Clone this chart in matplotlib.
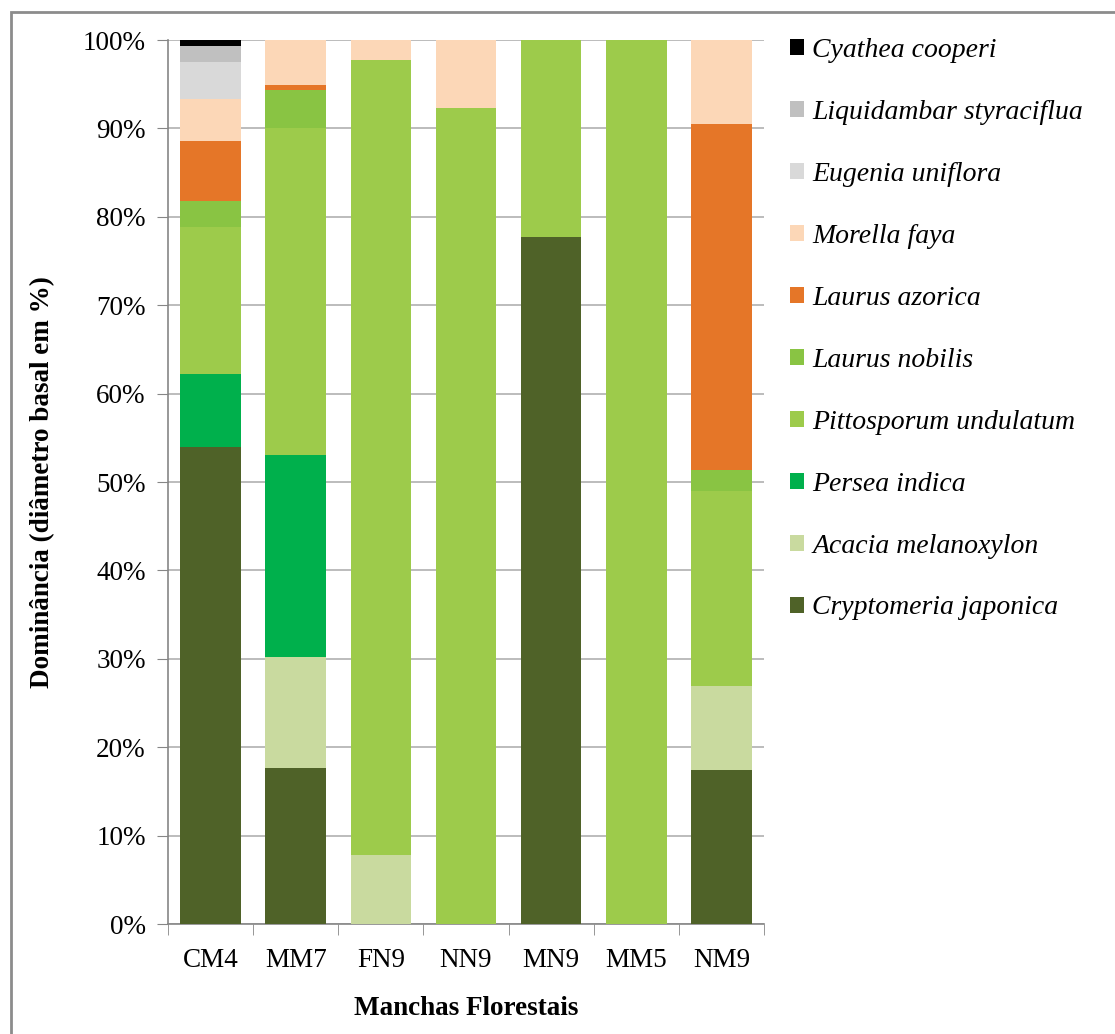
import numpy as np
import matplotlib
matplotlib.use("Agg")
import matplotlib.pyplot as plt
from matplotlib.patches import Patch, Rectangle
from matplotlib.ticker import MultipleLocator, FuncFormatter

plt.rcParams['font.family'] = ['Liberation Serif', 'DejaVu Serif']

manchas = ["CM4", "MM7", "FN9", "NN9", "MN9", "MM5", "NM9"]

# dominance (%) per species, bottom to top
cryptomeria = [54.0, 17.6, 0.0, 0.0, 77.7, 0.0, 17.4]
acacia = [0.0, 12.6, 7.8, 0.0, 0.0, 0.0, 9.5]
persea = [8.2, 22.8, 0.0, 0.0, 0.0, 0.0, 0.0]
pittosporum = [16.6, 37.1, 89.9, 92.3, 22.3, 100.0, 22.1]
laurus_nobilis = [3.0, 4.2, 0.0, 0.0, 0.0, 0.0, 2.4]
laurus_azorica = [6.8, 0.6, 0.0, 0.0, 0.0, 0.0, 39.1]
morella = [4.7, 5.1, 2.3, 7.7, 0.0, 0.0, 9.5]
eugenia = [4.2, 0.0, 0.0, 0.0, 0.0, 0.0, 0.0]
liquidambar = [1.85, 0.0, 0.0, 0.0, 0.0, 0.0, 0.0]
cyathea = [0.65, 0.0, 0.0, 0.0, 0.0, 0.0, 0.0]

series = [
    ("Cryptomeria japonica", cryptomeria, "#4F6228"),
    ("Acacia melanoxylon", acacia, "#C9DA9F"),
    ("Persea indica", persea, "#00B04C"),
    ("Pittosporum undulatum", pittosporum, "#9DCB4B"),
    ("Laurus nobilis", laurus_nobilis, "#89C443"),
    ("Laurus azorica", laurus_azorica, "#E57628"),
    ("Morella faya", morella, "#FCD7B7"),
    ("Eugenia uniflora", eugenia, "#D9D9D9"),
    ("Liquidambar styraciflua", liquidambar, "#C0C0C0"),
    ("Cyathea cooperi", cyathea, "#000000"),
]

W, H = 1115, 1034
fig = plt.figure(figsize=(W / 100, H / 100), dpi=100)
ax = fig.add_axes([168 / W, (H - 924) / H, 596 / W, 884 / H])

x = np.arange(len(manchas))
bottom = np.zeros(len(manchas))
handles = []
for name, vals, color in series:
    vals = np.array(vals)
    ax.bar(x, vals, width=0.71, bottom=bottom, color=color, zorder=3)
    bottom += vals
    handles.append(Patch(facecolor=color, label=name))

ax.set_xlim(-0.5, len(manchas) - 0.5)
ax.set_ylim(0, 100)
ax.yaxis.set_major_locator(MultipleLocator(10))
ax.yaxis.set_major_formatter(FuncFormatter(lambda v, p: f"{v:.0f}%"))
ax.grid(axis='y', color='#B0B0B0', linewidth=1.2, zorder=0)

ax.set_xticks(x)
ax.set_xticklabels(manchas)
ax.set_xticks(np.arange(-0.5, len(manchas)), minor=True)
ax.tick_params(axis='x', which='major', length=0, labelsize=19.5, pad=17)
ax.tick_params(axis='x', which='minor', length=8, color='#868686', direction='out')
ax.tick_params(axis='y', labelsize=19.5, length=8, color='#868686', pad=8)

for side in ['top', 'right']:
    ax.spines[side].set_visible(False)
ax.spines['left'].set_color('#868686')
ax.spines['bottom'].set_color('#868686')
ax.spines['left'].set_linewidth(1.2)
ax.spines['bottom'].set_linewidth(1.2)

ax.set_xlabel("Manchas Florestais", fontsize=19.5, fontweight='bold', labelpad=17)
ax.set_ylabel("Dominância (diâmetro basal em %)", fontsize=19.5,
              fontweight='bold', labelpad=20)

leg = fig.legend(handles=handles[::-1], loc='upper left',
                 bbox_to_anchor=(765 / W, 1 - 13 / H), frameon=False,
                 prop={'size': 20, 'style': 'italic'},
                 handlelength=0.5, handleheight=0.5, handletextpad=0.3,
                 labelspacing=1.33)

# outer chart border (Excel style)
fig.patches.append(Rectangle((11 / W, -0.01), 1.02, 1 - 12 / H + 0.01,
                             transform=fig.transFigure, fill=False,
                             edgecolor='#8C8C8C', linewidth=2))

fig.savefig("out.png", dpi=100)
